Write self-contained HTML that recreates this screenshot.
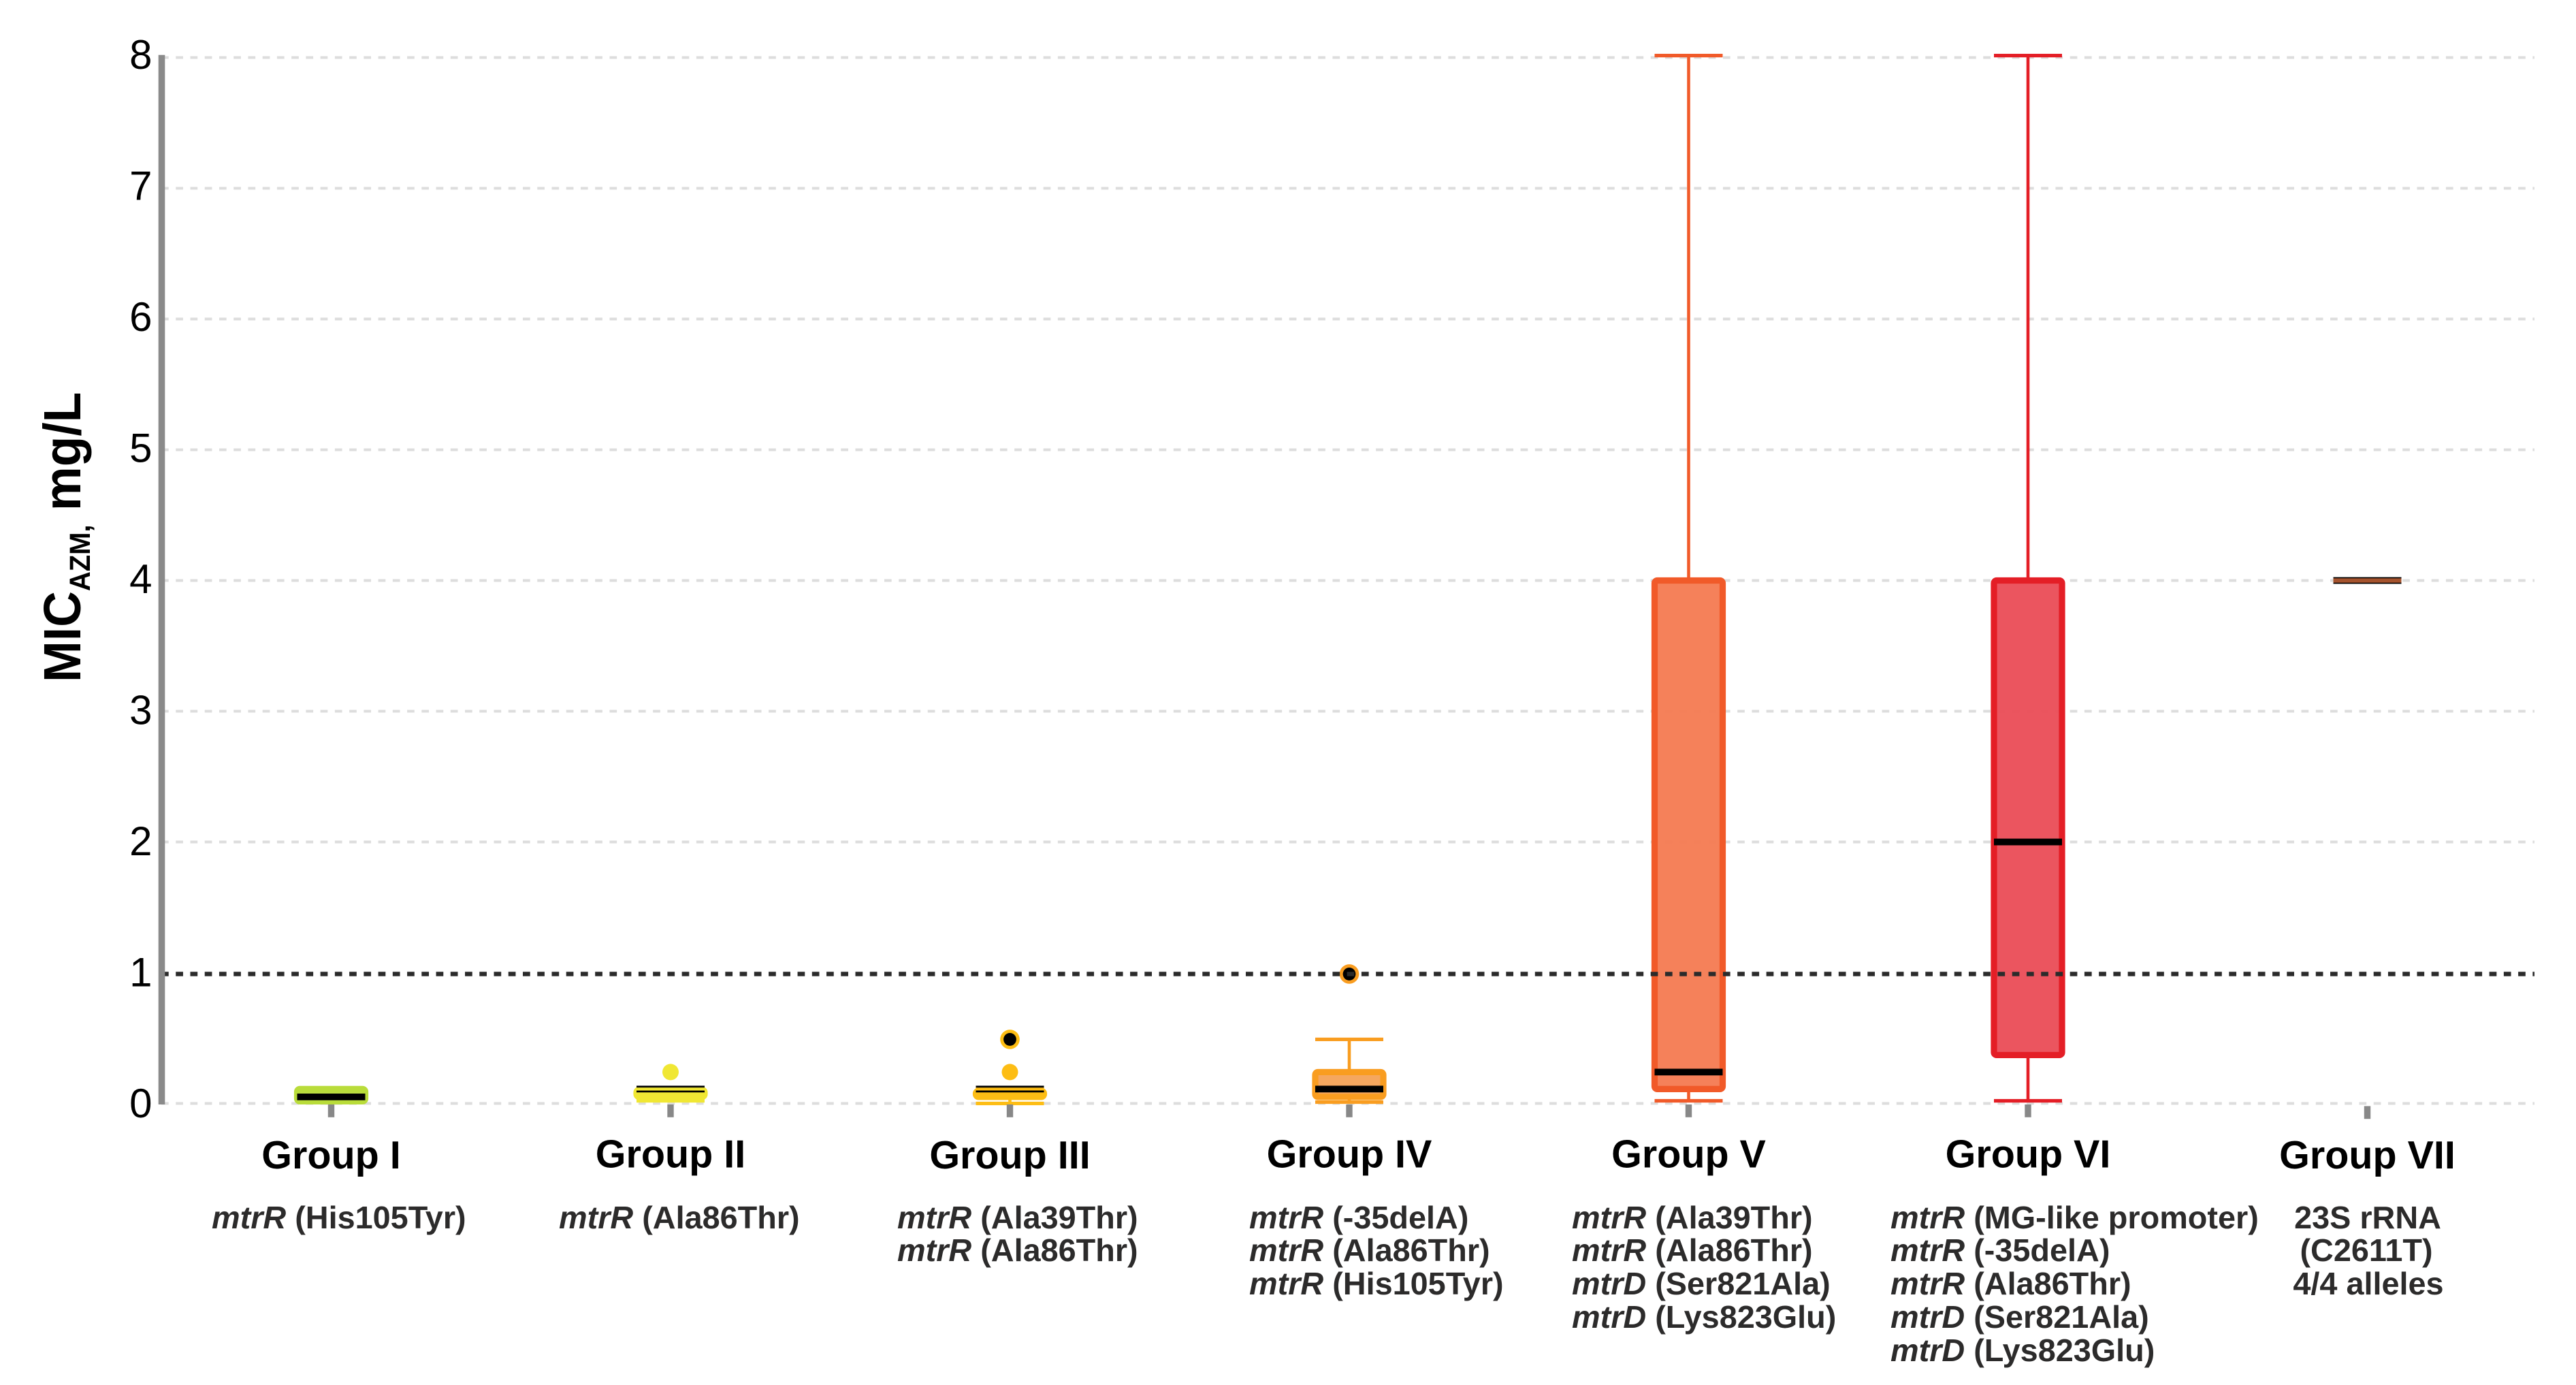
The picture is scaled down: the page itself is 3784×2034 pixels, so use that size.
<!DOCTYPE html>
<html lang="en">
<head>
<meta charset="utf-8">
<title>MIC AZM box plot by group</title>
<style>
html,body{margin:0;padding:0;background:#fff;}
svg{display:block;}
text{font-family:"Liberation Sans",Arial,sans-serif;}
.sub{font-size:46.8px;font-weight:700;fill:#2c2b2b;}
.sub tspan.g{font-style:italic;}
</style>
</head>
<body>
<svg id="chart" xmlns="http://www.w3.org/2000/svg" width="3784" height="2034" viewBox="0 0 3784 2034">
  <rect x="0" y="0" width="3784" height="2034" fill="#ffffff"/>
  <g id="grid"></g>
  <g id="marks"></g>
  <g id="ref"></g>
  <g id="axes"></g>

  <text transform="translate(118,1002) rotate(-90) scale(1,1.06)" font-size="73" font-weight="700" fill="#000">MIC<tspan font-size="40" dy="13">AZM,</tspan><tspan dy="-13"> mg/L</tspan></text>

  <g>
    <text class="sub" x="311" y="1804"><tspan class="g">mtrR</tspan> (His105Tyr)</text>
  </g>
  <g>
    <text class="sub" x="821" y="1804"><tspan class="g">mtrR</tspan> (Ala86Thr)</text>
  </g>
  <g>
    <text class="sub" x="1318" y="1804"><tspan class="g">mtrR</tspan> (Ala39Thr)</text>
    <text class="sub" x="1318" y="1852"><tspan class="g">mtrR</tspan> (Ala86Thr)</text>
  </g>
  <g>
    <text class="sub" x="1835" y="1804"><tspan class="g">mtrR</tspan> (-35delA)</text>
    <text class="sub" x="1835" y="1852"><tspan class="g">mtrR</tspan> (Ala86Thr)</text>
    <text class="sub" x="1835" y="1901"><tspan class="g">mtrR</tspan> (His105Tyr)</text>
  </g>
  <g>
    <text class="sub" x="2309" y="1804"><tspan class="g">mtrR</tspan> (Ala39Thr)</text>
    <text class="sub" x="2309" y="1852"><tspan class="g">mtrR</tspan> (Ala86Thr)</text>
    <text class="sub" x="2309" y="1901"><tspan class="g">mtrD</tspan> (Ser821Ala)</text>
    <text class="sub" x="2309" y="1950"><tspan class="g">mtrD</tspan> (Lys823Glu)</text>
  </g>
  <g>
    <text class="sub" x="2777" y="1804"><tspan class="g">mtrR</tspan> (MG-like promoter)</text>
    <text class="sub" x="2777" y="1852"><tspan class="g">mtrR</tspan> (-35delA)</text>
    <text class="sub" x="2777" y="1901"><tspan class="g">mtrR</tspan> (Ala86Thr)</text>
    <text class="sub" x="2777" y="1950"><tspan class="g">mtrD</tspan> (Ser821Ala)</text>
    <text class="sub" x="2777" y="1999"><tspan class="g">mtrD</tspan> (Lys823Glu)</text>
  </g>
  <g text-anchor="middle">
    <text class="sub" x="3478" y="1804">23S rRNA</text>
    <text class="sub" x="3476" y="1852">(C2611T)</text>
    <text class="sub" x="3479" y="1901">4/4 alleles</text>
  </g>
</svg>
<script>
// ---- data ----
const categories = ['Group I', 'Group II', 'Group III', 'Group IV', 'Group V', 'Group VI', 'Group VII'];
const q1Values = [0.016, 0.05, 0.05, 0.05, 0.11, 0.37, null];
const medianValues = [0.05, 0.11, 0.11, 0.11, 0.24, 2.0, 4.0];
const q3Values = [0.11, 0.105, 0.096, 0.24, 4.0, 4.0, null];
const whiskerLowValues = [null, 0.02, 0.0, 0.01, 0.02, 0.02, null];
const whiskerHighValues = [null, null, null, 0.49, 8.015, 8.015, null];
const darkOutlierValues = [[], [], [0.49], [0.99], [], [], []];
const plainOutlierValues = [[], [0.24], [0.24], [], [], [], []];
const yTickValues = [0, 1, 2, 3, 4, 5, 6, 7, 8];
const referenceValue = 0.99;

// ---- styling ----
const strokeColors = ['#b9dc3a', '#f0e733', '#fdbd14', '#f99d20', '#f15a29', '#e41e26', '#a5532d'];
const fillColors = ['#b9dc3a', '#f0e733', '#fdbd14', '#f5a45a', '#f57d55', '#ea505a', '#a5532d'];
const medianBandColors = [null, '#f0e733', '#fdbd14', null, null, null, '#a5532d'];
const medianBandSizes = [0, 4.4, 4.2, 0, 0, 0, 6.4];

// ---- axis functions ----
function xScale(i) { return 486.5 + 498.5 * i; }
function yScale(v) { return 1620.5 - 192 * v; }

const NS = 'http://www.w3.org/2000/svg';
function mk(parent, tag, props) {
  const el = document.createElementNS(NS, tag);
  for (const k in props) el.setAttribute(k, props[k]);
  parent.appendChild(el);
  return el;
}
const gridG = document.getElementById('grid');
const marksG = document.getElementById('marks');
const refG = document.getElementById('ref');
const axesG = document.getElementById('axes');

// grid lines and y tick labels
yTickValues.forEach(function (v) {
  const line = mk(gridG, 'line', { x1: 237, x2: 3723, y1: yScale(v), y2: yScale(v), stroke: '#dddddd', 'stroke-width': 4, 'stroke-dasharray': '10.7 10.54' });
  
  
  const label = mk(axesG, 'text', { x: 223.5, y: yScale(v) + 20.7 - 0.55 * v, 'text-anchor': 'end', 'font-size': 60, fill: '#000' });
  label.textContent = String(v);
  
  
});

// boxes
categories.forEach(function (name, i) {
  const cx = xScale(i);
  const slug = name.toLowerCase().replace(/\s+/g, '-');
  const color = strokeColors[i];
  const group = mk(marksG, 'g', {});
  
  

  const hi = whiskerHighValues[i];
  const lo = whiskerLowValues[i];
  if (hi !== null) {
    const stemHi = mk(group, 'line', { x1: cx, x2: cx, y1: yScale(hi), y2: yScale(q3Values[i]), stroke: color, 'stroke-width': 4.6 });
    
    
    const capHi = mk(group, 'rect', { x: cx - 50, width: 100, y: yScale(hi) - 2.6, height: 5.2, fill: color });
    
    
  }
  if (lo !== null) {
    const stemLo = mk(group, 'line', { x1: cx, x2: cx, y1: yScale(q1Values[i]), y2: yScale(lo), stroke: color, 'stroke-width': 4.6 });
    
    
    const capLo = mk(group, 'rect', { x: cx - 50, width: 100, y: yScale(lo) - 2.6, height: 5.2, fill: color });
    
    
  }
  if (q1Values[i] !== null && q3Values[i] !== null) {
    const top = yScale(q3Values[i]);
    const bottom = yScale(q1Values[i]);
    const box = mk(group, 'rect', { x: cx - 50, width: 100, y: top, height: bottom - top, rx: 4, ry: 4, fill: fillColors[i], 'fill-opacity': 0.97, stroke: color, 'stroke-width': 9.2 });
    
    
  }
  const medianY = yScale(medianValues[i]);
  const med = mk(group, 'rect', { x: cx - 50, width: 100, y: medianY - 4.9, height: 9.8, fill: '#000' });
  
  
  if (medianBandColors[i]) {
    const band = mk(group, 'rect', { x: cx - 50, width: 100, y: medianY - medianBandSizes[i] / 2, height: medianBandSizes[i], fill: medianBandColors[i] });
    
    
  }
  plainOutlierValues[i].forEach(function (v) {
    const dot = mk(group, 'circle', { cx: cx, cy: yScale(v), r: 12, fill: color });
    
    
  });
  darkOutlierValues[i].forEach(function (v) {
    const ring = mk(group, 'circle', { cx: cx, cy: yScale(v), r: 14.3, fill: color });
    
    
    const core = mk(group, 'circle', { cx: cx, cy: yScale(v), r: 9.4, fill: '#000' });
    
    
  });

  const tickTop = i === 6 ? 1624.4 : 1622;
  const tick = mk(axesG, 'rect', { x: cx - 4.7, width: 9.4, y: tickTop, height: 18.8, fill: '#888888' });
  
  
  const label = mk(axesG, 'text', { x: cx, y: (i === 0 || i === 2 || i === 6) ? 1716 : 1714.5, 'text-anchor': 'middle', 'font-size': 57.5, 'font-weight': 700, fill: '#000' });
  label.textContent = name;
  
  
});

// reference breakpoint line
const refLine = mk(refG, 'line', { x1: 237, x2: 3723, y1: yScale(referenceValue), y2: yScale(referenceValue), stroke: '#2b2b2b', 'stroke-width': 6.4, 'stroke-dasharray': '10.7 10.54' });



// y axis line
const yAxis = mk(axesG, 'rect', { x: 232.7, y: 80.7, width: 9.6, height: 1541.3, fill: '#8a8a8a' });


</script>
</body>
</html>
